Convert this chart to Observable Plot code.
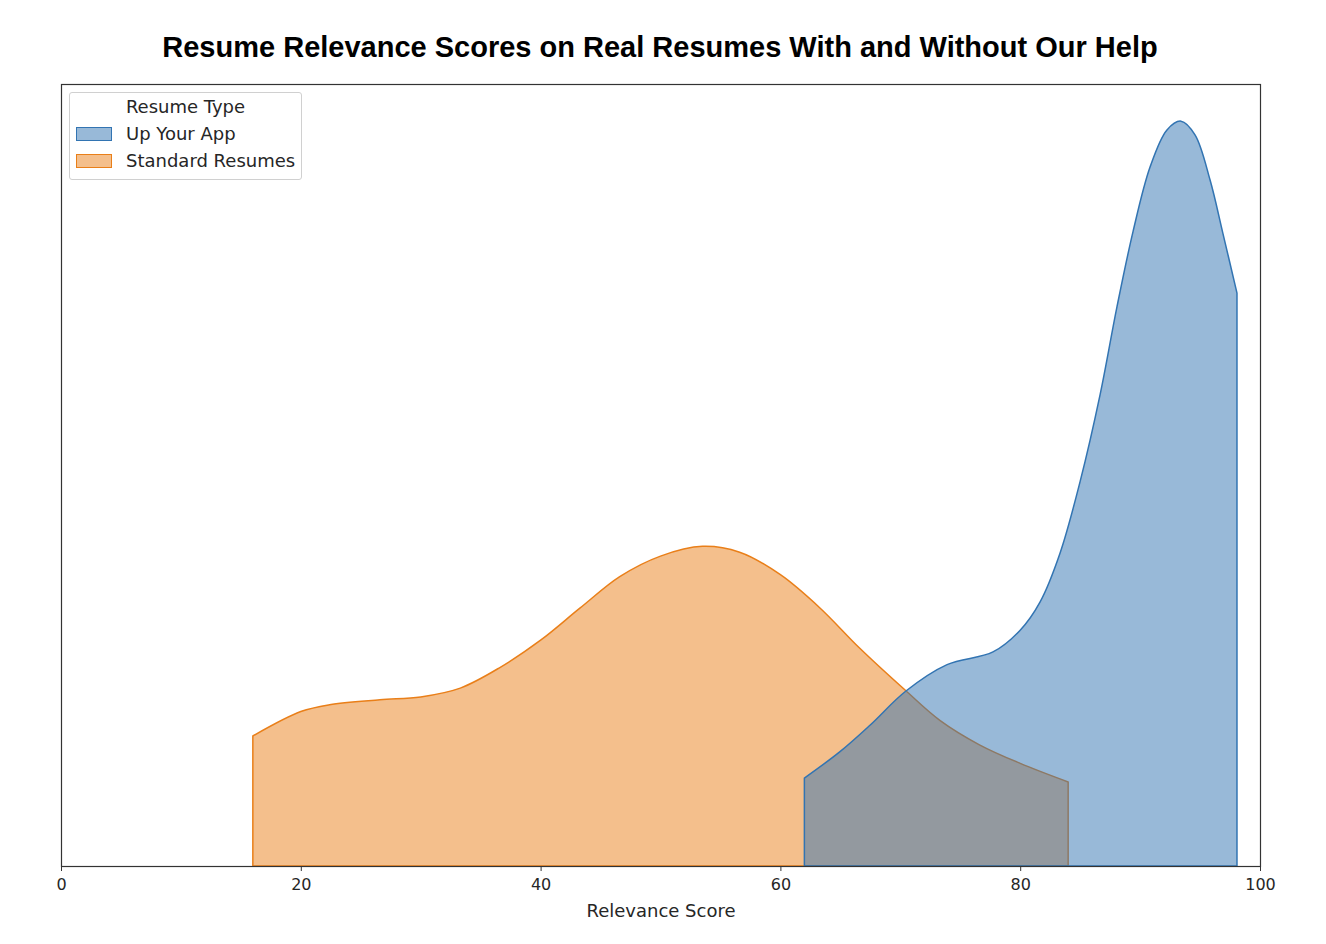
<!DOCTYPE html>
<html>
<head>
<meta charset="utf-8">
<script src="https://cdn.jsdelivr.net/npm/d3@7"></script>
<script src="https://cdn.jsdelivr.net/npm/@observablehq/plot@0.6"></script>
<style>
  html, body { margin: 0; padding: 0; background: #fff; }
  #wrap { position: relative; width: 1326px; height: 944px; }
  #title { position: absolute; left: 0; top: 31px; width: 1320px; text-align: center;
    font-family: "Liberation Sans", Arial, sans-serif; font-weight: bold; font-size: 29px; color: #000; }
  #chart { position: absolute; left: 0; top: 74px; }
  #legend { position: absolute; left: 69px; top: 92px; width: 233px; height: 88px;
    border: 1px solid #d0d0d0; border-radius: 3px; background: rgba(255,255,255,0.8);
    font-family: "DejaVu Sans", sans-serif; font-size: 18px; color: #262626; box-sizing: border-box; }
  #legend .lt { position: absolute; left: 0; width: 231px; top: 3px; text-align: center; }
  #legend .sw { position: absolute; left: 6px; width: 36px; height: 14px; border-width: 1.5px; border-style: solid; box-sizing: border-box; }
  #legend .lab { position: absolute; left: 56px; white-space: nowrap; }
</style>
</head>
<body>
<div id="wrap">
  <div id="title">Resume Relevance Scores on Real Resumes With and Without Our Help</div>
  <div id="chart"></div>
  <div id="legend"></div>
</div>
<script>
// Series names and colours
const seriesNames = ["Up Your App", "Standard Resumes"];
const seriesColors = ["#3274b2", "#e97f19"];
const legendTitle = "Resume Type";
const xLabel = "Relevance Score";
const xTicks = [0, 20, 40, 60, 80, 100];

// Up Your App density curve (score, density)
const appScores = [62, 64.97, 67.47, 70.47, 73.9, 77.73, 79.98, 81.65, 83.32, 84.99, 86.66, 88.07, 89.41, 90.83, 92.24, 93.41, 94.58, 95.83, 96.91, 98.08];
const appDensity = [0.0090, 0.0117, 0.0144, 0.0179, 0.0206, 0.0219, 0.0241, 0.0270, 0.0320, 0.0393, 0.0482, 0.0572, 0.0649, 0.0715, 0.0753, 0.0762, 0.0748, 0.0702, 0.0647, 0.0586];

// Standard Resumes density curve (score, density)
const stdScores = [16, 20, 22.4, 26.6, 30, 33.3, 36.6, 40, 43.3, 46.6, 50, 53.5, 56.6, 60, 63.3, 66.6, 70.4, 73.3, 76.6, 80, 84];
const stdDensity = [0.0133, 0.0158, 0.0165, 0.0170, 0.0173, 0.0182, 0.0203, 0.0231, 0.0264, 0.0296, 0.0317, 0.0327, 0.0321, 0.0298, 0.0264, 0.0223, 0.0180, 0.0149, 0.0124, 0.0105, 0.0086];

const app = appScores.map((x, i) => ({x, y: appDensity[i], s: seriesNames[0]}));
const std = stdScores.map((x, i) => ({x, y: stdDensity[i], s: seriesNames[1]}));

const chart = Plot.plot({
  width: 1326,
  height: 870,
  marginTop: 10,
  marginLeft: 61,
  marginRight: 66,
  marginBottom: 78,
  style: {fontFamily: "DejaVu Sans, sans-serif", fontSize: "16px", color: "#262626", background: "transparent"},
  x: {domain: [0, 100]},
  y: {domain: [0, 0.08], axis: null},
  marks: [
    Plot.areaY(std, {x: "x", y: "y", fill: seriesColors[1], fillOpacity: 0.5, stroke: seriesColors[1], strokeWidth: 1.5, curve: "catmull-rom"}),
    Plot.areaY(app, {x: "x", y: "y", fill: seriesColors[0], fillOpacity: 0.5, stroke: seriesColors[0], strokeWidth: 1.5, curve: "catmull-rom"}),
    Plot.frame({stroke: "#333", strokeWidth: 1.2}),
    Plot.axisX({ticks: xTicks, tickSize: 5, tickPadding: 7, label: null, fontSize: 16, stroke: "#333"}),
    Plot.text([xLabel], {text: d => d, frameAnchor: "bottom", dy: 50, fontSize: 18, fill: "#262626"})
  ]
});
document.getElementById("chart").appendChild(chart);

// Legend
const leg = document.getElementById("legend");
const lt = document.createElement("div");
lt.className = "lt"; lt.textContent = legendTitle; leg.appendChild(lt);
seriesNames.forEach((name, i) => {
  const sw = document.createElement("div");
  sw.className = "sw";
  sw.style.borderColor = seriesColors[i];
  sw.style.background = d3.color(seriesColors[i]).copy({opacity: 0.5}).formatRgb();
  sw.style.top = (34 + i * 27) + "px";
  const lab = document.createElement("div");
  lab.className = "lab"; lab.textContent = name; lab.style.top = (30 + i * 27) + "px";
  leg.appendChild(sw); leg.appendChild(lab);
});
</script>
</body>
</html>
